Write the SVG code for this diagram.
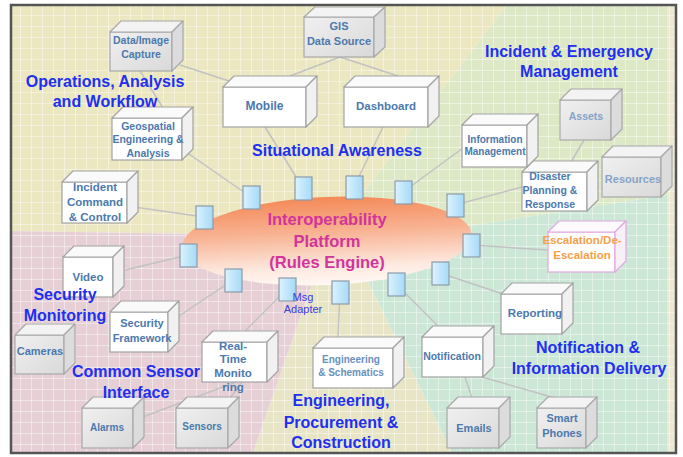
<svg xmlns="http://www.w3.org/2000/svg" width="683" height="457" viewBox="0 0 683 457">
<defs>
<pattern id="grid" width="11" height="11" patternUnits="userSpaceOnUse" x="9" y="4">
<path d="M11 0H0V11" fill="none" stroke="#ffffff" stroke-opacity="0.85" stroke-width="1"/>
</pattern>
<linearGradient id="ellG" x1="0" y1="0" x2="0" y2="1">
<stop offset="0" stop-color="#f48a58"/>
<stop offset="0.4" stop-color="#f8b393"/>
<stop offset="0.8" stop-color="#fde9df"/>
<stop offset="1" stop-color="#fff8f4"/>
</linearGradient>
<linearGradient id="portG" x1="0" y1="0" x2="1" y2="0">
<stop offset="0" stop-color="#dbf2fe"/>
<stop offset="1" stop-color="#a6daf7"/>
</linearGradient>
<linearGradient id="grayG" x1="0" y1="0" x2="1" y2="1">
<stop offset="0" stop-color="#f0f0f0"/>
<stop offset="1" stop-color="#d9d9d9"/>
</linearGradient>
<style>
.bg{stroke:none}
.cn{stroke:#c2c2c2;stroke-width:1.5;fill:none}
.port{fill:url(#portG);stroke:#8d9ba8;stroke-width:1.2}
.fw{fill:#ffffff;stroke:#a3a3a3;stroke-width:1.2}
.tw{fill:#fafafa;stroke:#a3a3a3;stroke-width:1.2;stroke-linejoin:round}
.rw{fill:#f1f1f1;stroke:#a3a3a3;stroke-width:1.2;stroke-linejoin:round}
.fg{fill:url(#grayG);stroke:#a8a8a8;stroke-width:1.2}
.tg{fill:#f3f3f3;stroke:#a8a8a8;stroke-width:1.2;stroke-linejoin:round}
.rg{fill:#dcdcdc;stroke:#a8a8a8;stroke-width:1.2;stroke-linejoin:round}
.fp{fill:#ffffff;stroke:#e2a8e2;stroke-width:1.2}
.tp{fill:#fdfafd;stroke:#e2a8e2;stroke-width:1.2;stroke-linejoin:round}
.rp{fill:#f6f1f6;stroke:#e2a8e2;stroke-width:1.2;stroke-linejoin:round}
.nt{font-family:"Liberation Sans",Arial,sans-serif;font-weight:bold;font-size:11px;fill:#4c79ad;text-anchor:middle}
.s10{font-size:10px}
.s105{font-size:10.5px}
.s115{font-size:11.5px}
.s12{font-size:12px}
.lt{fill:#86a3c8}
.eng{fill:#6a90c0}
.orange{fill:#f4a04a}
.title{font-family:"Liberation Sans",Arial,sans-serif;font-weight:bold;font-size:16px;fill:#2130f0;text-anchor:middle}
.center{font-family:"Liberation Sans",Arial,sans-serif;font-weight:bold;font-size:16.5px;fill:#d2349b;text-anchor:middle}
.msg{font-family:"Liberation Sans",Arial,sans-serif;font-size:11px;fill:#3a3ae0;text-anchor:middle}
</style>
</defs>

<rect x="0" y="0" width="683" height="457" fill="#ffffff"/>
<g id="background">
<polygon class="bg" fill="#eae7c1" points="11,5 507,5 330,236 11,231"/>
<polygon class="bg" fill="#dde8c6" points="507,5 667,5 667,195 400,237 330,236"/>
<polygon class="bg" fill="#cce7d6" points="667,195 667,453 452,453 350,245 400,237"/>
<polygon class="bg" fill="#e8e5c6" points="452,453 253,453 327,240 350,245"/>
<polygon class="bg" fill="#e6d0d6" points="253,453 11,453 11,231 330,236 327,240"/>
<rect class="bg" fill="#ebe8d3" x="667" y="5" width="9" height="448"/>
<rect x="11" y="5" width="665" height="448" fill="url(#grid)"/>
<rect x="11" y="5" width="665" height="448" fill="none" stroke="#555555" stroke-width="2.5"/>
</g>

<g id="connectors">
<line class="cn" x1="180" y1="65" x2="232" y2="82"/>
<line class="cn" x1="140" y1="71" x2="163" y2="108"/>
<line class="cn" x1="340" y1="57" x2="290" y2="76"/>
<line class="cn" x1="340" y1="57" x2="398" y2="76"/>
<line class="cn" x1="584" y1="140" x2="571" y2="162"/>
<line class="cn" x1="465" y1="377" x2="472" y2="398"/>
<line class="cn" x1="482" y1="377" x2="555" y2="398"/>
<line class="cn" x1="236" y1="382" x2="140" y2="418"/>
<line class="cn" x1="242" y1="382" x2="230" y2="398"/>
<line class="cn" x1="134" y1="207" x2="204" y2="217"/>
<line class="cn" x1="186" y1="152" x2="251" y2="197"/>
<line class="cn" x1="265" y1="127" x2="303" y2="188"/>
<line class="cn" x1="383" y1="127" x2="354" y2="187"/>
<line class="cn" x1="463" y1="148" x2="403" y2="192"/>
<line class="cn" x1="522" y1="187" x2="455" y2="205"/>
<line class="cn" x1="548" y1="250" x2="471" y2="245"/>
<line class="cn" x1="503" y1="294" x2="440" y2="273"/>
<line class="cn" x1="442" y1="330" x2="396" y2="284"/>
<line class="cn" x1="338" y1="338" x2="340" y2="292"/>
<line class="cn" x1="245" y1="331" x2="287" y2="289"/>
<line class="cn" x1="176" y1="318" x2="233" y2="280"/>
<line class="cn" x1="125" y1="270" x2="188" y2="255"/>
</g>

<g id="platform">
<ellipse cx="327" cy="241" rx="145" ry="44" transform="rotate(-2.5 327 241)" fill="url(#ellG)"/>
<text class="center" x="327" y="225">Interoperability</text>
<text class="center" x="327" y="247">Platform</text>
<text class="center" x="327" y="268">(Rules Engine)</text>
</g>

<g id="ports">
<rect id="port-1" class="port" x="243" y="186" width="17" height="23"/>
<rect id="port-2" class="port" x="295" y="177" width="17" height="23"/>
<rect id="port-3" class="port" x="346" y="176" width="17" height="23"/>
<rect id="port-4" class="port" x="395" y="181" width="17" height="23"/>
<rect id="port-5" class="port" x="447" y="194" width="17" height="23"/>
<rect id="port-6" class="port" x="463" y="234" width="17" height="23"/>
<rect id="port-7" class="port" x="432" y="262" width="17" height="23"/>
<rect id="port-8" class="port" x="388" y="273" width="17" height="23"/>
<rect id="port-9" class="port" x="332" y="281" width="17" height="23"/>
<rect id="port-10" class="port" x="279" y="278" width="17" height="23"/>
<rect id="port-11" class="port" x="225" y="269" width="17" height="23"/>
<rect id="port-12" class="port" x="180" y="244" width="17" height="23"/>
<rect id="port-13" class="port" x="196" y="206" width="17" height="23"/>
</g>
<g id="msg-adapter-label">
<text class="msg" x="303" y="301">Msg</text>
<text class="msg" x="303" y="313">Adapter</text>
</g>

<g id="node-data-image-capture">
<rect class="fg" x="110" y="32" width="62" height="39"/>
<polygon class="tg" points="110,32 121,21 183,21 172,32"/>
<polygon class="rg" points="172,32 183,21 183,60 172,71"/>
<text class="nt s105" x="141" y="44">Data/Image</text>
<text class="nt s105" x="141" y="58">Capture</text>
</g>

<g id="node-gis">
<rect class="fg" x="304" y="17" width="70" height="40"/>
<polygon class="tg" points="304,17 315,7 385,7 374,17"/>
<polygon class="rg" points="374,17 385,7 385,47 374,57"/>
<text class="nt" x="339" y="30">GIS</text>
<text class="nt" x="339" y="45">Data Source</text>
</g>

<g id="node-mobile">
<rect class="fw" x="223" y="87" width="83" height="40"/>
<polygon class="tw" points="223,87 234,76 317,76 306,87"/>
<polygon class="rw" points="306,87 317,76 317,116 306,127"/>
<text class="nt s12" x="264.5" y="110">Mobile</text>
</g>

<g id="node-dashboard">
<rect class="fw" x="344" y="87" width="84" height="40"/>
<polygon class="tw" points="344,87 355,76 439,76 428,87"/>
<polygon class="rw" points="428,87 439,76 439,116 428,127"/>
<text class="nt s115" x="386" y="110">Dashboard</text>
</g>

<g id="node-geospatial">
<rect class="fw" x="112" y="118" width="70" height="42"/>
<polygon class="tw" points="112,118 123,107 193,107 182,118"/>
<polygon class="rw" points="182,118 193,107 193,149 182,160"/>
<text class="nt s105" x="148" y="130">Geospatial</text>
<text class="nt s105" x="148" y="143">Engineering &amp;</text>
<text class="nt s105" x="148" y="157">Analysis</text>
</g>

<g id="node-incident-command">
<rect class="fw" x="62" y="182" width="65" height="41"/>
<polygon class="tw" points="62,182 73,171 138,171 127,182"/>
<polygon class="rw" points="127,182 138,171 138,212 127,223"/>
<text class="nt s115" x="95" y="191">Incident</text>
<text class="nt s115" x="95" y="206">Command</text>
<text class="nt s115" x="95" y="221">&amp; Control</text>
</g>

<g id="node-video">
<rect class="fw" x="63" y="257" width="50" height="40"/>
<polygon class="tw" points="63,257 74,246 124,246 113,257"/>
<polygon class="rw" points="113,257 124,246 124,286 113,297"/>
<text class="nt s115" x="88" y="281">Video</text>
</g>

<g id="node-security-framework">
<rect class="fw" x="110" y="312" width="58" height="40"/>
<polygon class="tw" points="110,312 121,301 179,301 168,312"/>
<polygon class="rw" points="168,312 179,301 179,341 168,352"/>
<text class="nt" x="142" y="327">Security</text>
<text class="nt" x="142" y="342">Framework</text>
</g>

<g id="node-cameras">
<rect class="fg" x="15" y="335" width="49" height="39"/>
<polygon class="tg" points="15,335 26,324 75,324 64,335"/>
<polygon class="rg" points="64,335 75,324 75,363 64,374"/>
<text class="nt" x="40" y="355">Cameras</text>
</g>

<g id="node-real-time">
<rect class="fw" x="202" y="342" width="65" height="40"/>
<polygon class="tw" points="202,342 213,331 278,331 267,342"/>
<polygon class="rw" points="267,342 278,331 278,371 267,382"/>
<text class="nt s115" x="233" y="350">Real-</text>
<text class="nt s115" x="233" y="363">Time</text>
<text class="nt s115" x="233" y="377">Monito</text>
<text class="nt s115" x="233" y="391">ring</text>
</g>

<g id="node-alarms">
<rect class="fg" x="82" y="408" width="51" height="40"/>
<polygon class="tg" points="82,408 93,397 144,397 133,408"/>
<polygon class="rg" points="133,408 144,397 144,437 133,448"/>
<text class="nt s10" x="107" y="431">Alarms</text>
</g>

<g id="node-sensors">
<rect class="fg" x="176" y="408" width="52" height="40"/>
<polygon class="tg" points="176,408 187,397 239,397 228,408"/>
<polygon class="rg" points="228,408 239,397 239,437 228,448"/>
<text class="nt s10" x="202" y="430">Sensors</text>
</g>

<g id="node-engineering-schematics">
<rect class="fw" x="313" y="348" width="80" height="40"/>
<polygon class="tw" points="313,348 324,337 404,337 393,348"/>
<polygon class="rw" points="393,348 404,337 404,377 393,388"/>
<text class="nt s10 eng" x="351" y="363">Engineering</text>
<text class="nt s10 eng" x="351" y="376">&amp; Schematics</text>
</g>

<g id="node-notification">
<rect class="fw" x="422" y="337" width="61" height="40"/>
<polygon class="tw" points="422,337 433,326 494,326 483,337"/>
<polygon class="rw" points="483,337 494,326 494,366 483,377"/>
<text class="nt s105" x="452" y="360">Notification</text>
</g>

<g id="node-reporting">
<rect class="fw" x="501" y="294" width="61" height="40"/>
<polygon class="tw" points="501,294 512,283 573,283 562,294"/>
<polygon class="rw" points="562,294 573,283 573,323 562,334"/>
<text class="nt s115" x="535" y="317">Reporting</text>
</g>

<g id="node-emails">
<rect class="fg" x="447" y="408" width="52" height="40"/>
<polygon class="tg" points="447,408 458,397 510,397 499,408"/>
<polygon class="rg" points="499,408 510,397 510,437 499,448"/>
<text class="nt" x="474" y="432">Emails</text>
</g>

<g id="node-smart-phones">
<rect class="fg" x="537" y="408" width="49" height="40"/>
<polygon class="tg" points="537,408 548,397 597,397 586,408"/>
<polygon class="rg" points="586,408 597,397 597,437 586,448"/>
<text class="nt" x="562" y="422">Smart</text>
<text class="nt" x="562" y="437">Phones</text>
</g>

<g id="node-escalation">
<rect class="fp" x="548" y="232" width="67" height="40"/>
<polygon class="tp" points="548,232 559,221 626,221 615,232"/>
<polygon class="rp" points="615,232 626,221 626,261 615,272"/>
<text class="nt s115 orange" x="582" y="244">Escalation/De-</text>
<text class="nt s115 orange" x="582" y="259">Escalation</text>
</g>

<g id="node-disaster">
<rect class="fw" x="522" y="172" width="65" height="39"/>
<polygon class="tw" points="522,172 533,161 598,161 587,172"/>
<polygon class="rw" points="587,172 598,161 598,200 587,211"/>
<text class="nt s105" x="550" y="180">Disaster</text>
<text class="nt s105" x="550" y="194">Planning &amp;</text>
<text class="nt s105" x="550" y="208">Response</text>
</g>

<g id="node-resources">
<rect class="fg" x="602" y="157" width="59" height="40"/>
<polygon class="tg" points="602,157 613,146 672,146 661,157"/>
<polygon class="rg" points="661,157 672,146 672,186 661,197"/>
<text class="nt lt" x="633" y="183">Resources</text>
</g>

<g id="node-assets">
<rect class="fg" x="560" y="100" width="51" height="40"/>
<polygon class="tg" points="560,100 571,89 622,89 611,100"/>
<polygon class="rg" points="611,100 622,89 622,129 611,140"/>
<text class="nt s105 lt" x="586" y="120">Assets</text>
</g>

<g id="node-information-management">
<rect class="fw" x="462" y="125" width="65" height="42"/>
<polygon class="tw" points="462,125 473,114 538,114 527,125"/>
<polygon class="rw" points="527,125 538,114 538,156 527,167"/>
<text class="nt s10" x="495" y="143">Information</text>
<text class="nt s10" x="495" y="155">Management</text>
</g>

<g id="section-labels">
<text class="title" x="105" y="87">Operations, Analysis</text>
<text class="title" x="105" y="107">and Workflow</text>
<text class="title" x="337" y="156">Situational Awareness</text>
<text class="title" x="569" y="57">Incident &amp; Emergency</text>
<text class="title" x="569" y="77">Management</text>
<text class="title" x="65" y="300">Security</text>
<text class="title" x="65" y="321">Monitoring</text>
<text class="title" x="136" y="377">Common Sensor</text>
<text class="title" x="136" y="398">Interface</text>
<text class="title" x="341" y="406">Engineering,</text>
<text class="title" x="341" y="428">Procurement &amp;</text>
<text class="title" x="341" y="448">Construction</text>
<text class="title" x="588" y="353">Notification &amp;</text>
<text class="title" x="589" y="374">Information Delivery</text>
</g>
</svg>
